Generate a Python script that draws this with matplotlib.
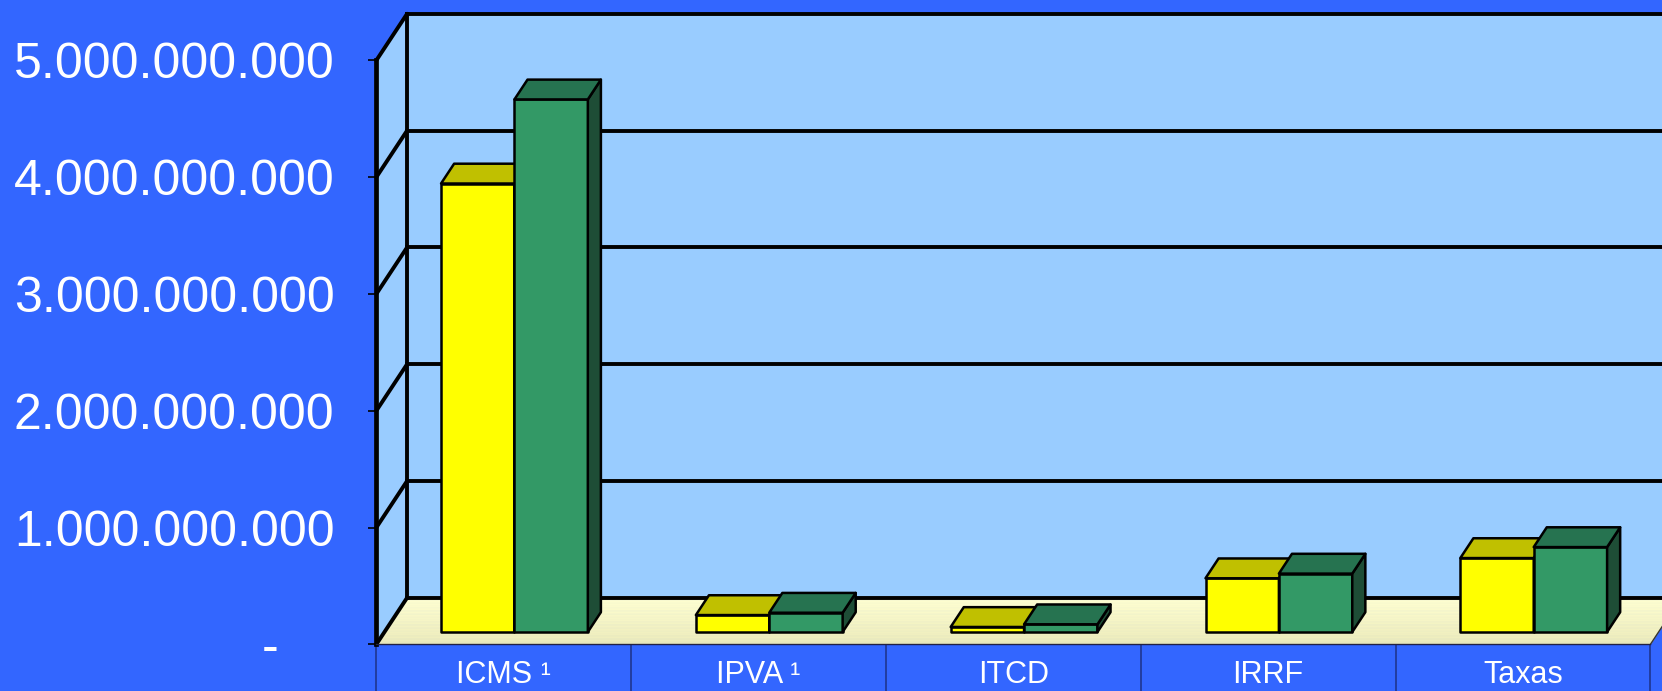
import numpy as np
import matplotlib.pyplot as plt
from matplotlib.patches import Polygon
from matplotlib.ticker import FuncFormatter

plt.rcParams['font.family'] = ['Liberation Sans', 'DejaVu Sans']

# dados
categorias = ['ICMS ¹', 'IPVA ¹', 'ITCD', 'IRRF', 'Taxas']
serie_1 = [3.84e9, 0.145e9, 0.043e9, 0.46e9, 0.633e9]
serie_2 = [4.56e9, 0.165e9, 0.066e9, 0.50e9, 0.727e9]
yticks = [0, 1e9, 2e9, 3e9, 4e9, 5e9]

cores_1 = ('#FFFF00', '#C0C000', '#A0A000')   # frente, topo, lado
cores_2 = ('#339966', '#267350', '#1E4D36')

# deslocamento de profundidade (falso 3D)
DX = 0.121
DY = 0.40e9
d0, d1 = 0.266, 0.69
w = 0.288


def p(x, y, d):
    return (x + d * DX, y + d * DY)


fig = plt.figure(figsize=(16.62, 6.91), dpi=100, facecolor='#3366FF')
ax = fig.add_axes([0.2264, 0.0674, 0.7666, 0.8451])
ax.set_facecolor('none')
ax.set_xlim(-0.5, 4.5)
ax.set_ylim(0, 5e9)
x0, x1 = -0.5, 4.5
ymax = yticks[-1]

# paredes
wall = '#99CCFF'
ax.add_patch(Polygon([p(x0, 0, 1), p(x1 + 0.2, 0, 1), p(x1 + 0.2, ymax, 1), p(x0, ymax, 1)],
                     closed=True, fc=wall, ec='none', clip_on=False, zorder=1))
ax.add_patch(Polygon([p(x0, 0, 0), p(x0, 0, 1), p(x0, ymax, 1), p(x0, ymax, 0)],
                     closed=True, fc=wall, ec='none', clip_on=False, zorder=1))

# piso com gradiente (faixas)
c_front = np.array([0.925, 0.92, 0.73])
c_back = np.array([1.0, 1.0, 0.82])
n = 30
for k in range(n):
    da, db = k / n, (k + 1) / n
    c = c_front + (k + 0.5) / n * (c_back - c_front)
    ax.add_patch(Polygon([p(x0, 0, da), p(x1, 0, da), p(x1, 0, db), p(x0, 0, db)],
                         closed=True, fc=c, ec=c, lw=0.6, clip_on=False, zorder=1.1))

# grades
lw_g = 2.8
for v in yticks:
    a, b = p(x0, v, 0), p(x0, v, 1)
    ax.plot([a[0], b[0]], [a[1], b[1]], color='black', lw=lw_g, clip_on=False,
            zorder=1.5, solid_capstyle='round')
    a, b = p(x0, v, 1), p(x1 + 0.2, v, 1)
    ax.plot([a[0], b[0]], [a[1], b[1]], color='black', lw=lw_g, clip_on=False,
            zorder=1.5)
a, b = p(x0, 0, 1), p(x0, ymax, 1)
ax.plot([a[0], b[0]], [a[1], b[1]], color='black', lw=lw_g, clip_on=False, zorder=1.5)
a, b = p(x1, 0, 0), p(x1, 0, 1)
ax.plot([a[0], b[0]], [a[1], b[1]], color='#333333', lw=1.0, clip_on=False, zorder=1.5)

# barras
for i in range(len(categorias)):
    for s, (vals, cores) in enumerate([(serie_1, cores_1), (serie_2, cores_2)]):
        v = vals[i]
        xa = i - w + s * w + 0.01
        xb = xa + w
        frente = [p(xa, 0, d0), p(xb, 0, d0), p(xb, v, d0), p(xa, v, d0)]
        topo = [p(xa, v, d0), p(xb, v, d0), p(xb, v, d1), p(xa, v, d1)]
        lado = [p(xb, 0, d0), p(xb, 0, d1), p(xb, v, d1), p(xb, v, d0)]
        for pts, c in [(frente, cores[0]), (lado, cores[2]), (topo, cores[1])]:
            ax.add_patch(Polygon(pts, closed=True, fc=c, ec='black', lw=1.8,
                                 joinstyle='round', clip_on=False, zorder=3))

# eixos
for s in ['top', 'right']:
    ax.spines[s].set_visible(False)
ax.spines['left'].set_linewidth(3.4)
ax.spines['left'].set_color('black')
ax.spines['left'].set_zorder(2)
ax.spines['bottom'].set_linewidth(1.0)
ax.spines['bottom'].set_color('#222244')
ax.spines['bottom'].set_zorder(2)


def fmt(v, pos):
    if v == 0:
        return '-    '
    return f'{v:,.0f}'.replace(',', '.')


ax.set_yticks(yticks)
ax.yaxis.set_major_formatter(FuncFormatter(fmt))
ax.tick_params(axis='y', length=6, width=1.2, color='black', pad=24,
               labelsize=36, labelcolor='white')

ax.set_xticks(range(len(categorias)))
ax.set_xticklabels(categorias)
ax.set_xticks(np.arange(-0.5, 5, 1), minor=True)
ax.tick_params(axis='x', which='major', length=0, pad=11, labelsize=22,
               labelcolor='white')
ax.tick_params(axis='x', which='minor', length=40, width=1.2, color='#1F3590')

fig.savefig('out.png', dpi=100, facecolor=fig.get_facecolor())
